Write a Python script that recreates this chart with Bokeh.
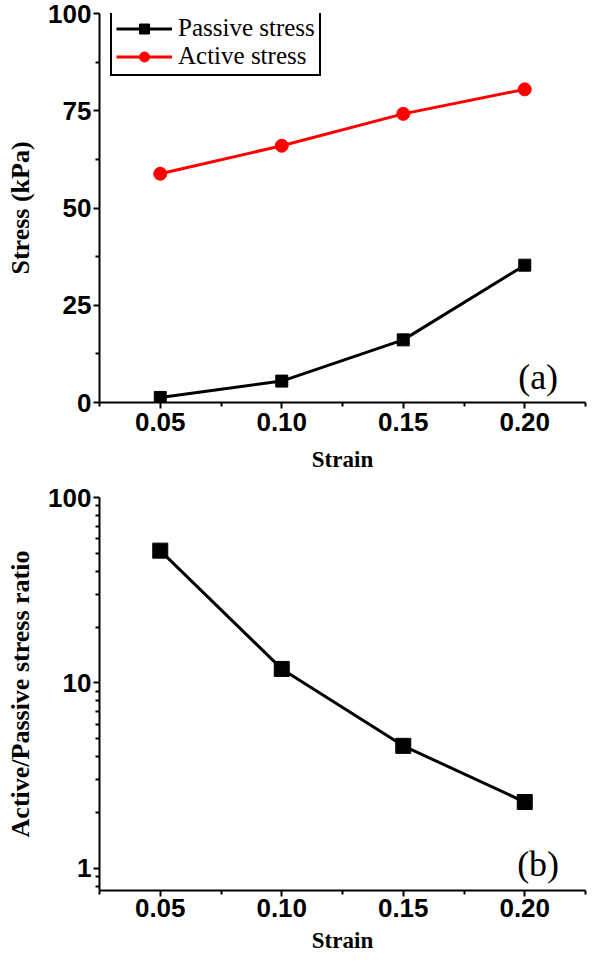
from bokeh.plotting import figure
from bokeh.layouts import column
from bokeh.models import (Range1d, FixedTicker, Legend, LegendItem, Label,
                          PrintfTickFormatter, NumeralTickFormatter)
from bokeh.embed import file_html
from bokeh.resources import INLINE

# ---- data ----
strain = [0.05, 0.10, 0.15, 0.20]
passive_stress = [1.3, 5.5, 16.1, 35.3]
active_stress = [58.8, 66.0, 74.2, 80.5]
stress_ratio = [51.7, 11.9, 4.58, 2.28]

x_ticks = [0.05, 0.10, 0.15, 0.20]
x_minor = [0.025, 0.075, 0.125, 0.175, 0.225]
stress_ticks = [0, 25, 50, 75, 100]
stress_minor = [12.5, 37.5, 62.5, 87.5]
ratio_ticks = [1, 10, 100]
ratio_minor = [0.8, 0.9, 2, 3, 4, 5, 6, 7, 8, 9, 20, 30, 40, 50, 60, 70, 80, 90]

TICK_FONT = "Liberation Sans"
LABEL_FONT = "Liberation Serif"


def style_axes(p, x_std, x_lbl_std):
    for ax in (p.xaxis[0], p.yaxis[0]):
        ax.axis_line_width = 2
        ax.axis_line_color = "black"
        ax.major_tick_line_width = 2
        ax.minor_tick_line_width = 2
        ax.major_tick_out = 6
        ax.major_tick_in = 0
        ax.minor_tick_out = 4
        ax.minor_tick_in = 0
        ax.major_label_text_font = TICK_FONT
        ax.major_label_text_font_size = "26px"
        ax.major_label_text_font_style = "bold"
        ax.major_label_text_color = "black"
        ax.axis_label_text_font = LABEL_FONT
        ax.axis_label_text_font_style = "bold"
        ax.axis_label_text_color = "black"
    p.xaxis[0].axis_label_text_font_size = "23px"
    p.yaxis[0].axis_label_text_font_size = "26px"
    p.xaxis[0].major_label_standoff = x_std
    p.yaxis[0].major_label_standoff = 2
    p.xaxis[0].axis_label_standoff = x_lbl_std
    p.yaxis[0].axis_label_standoff = 10
    p.grid.visible = False
    p.outline_line_color = None
    p.xaxis[0].ticker = FixedTicker(ticks=x_ticks, minor_ticks=x_minor)
    p.xaxis[0].formatter = PrintfTickFormatter(format="%.2f")


# ---- panel (a) ----
p1 = figure(width=587, height=484, output_backend="svg", toolbar_location=None,
            x_range=Range1d(0.025, 0.225), y_range=Range1d(0, 100),
            min_border_left=99, min_border_right=2, min_border_top=13,
            min_border_bottom=82)
style_axes(p1, 4, 13)
p1.xaxis.axis_label = "Strain"
p1.yaxis.axis_label = "Stress (kPa)"
p1.yaxis[0].ticker = FixedTicker(ticks=stress_ticks, minor_ticks=stress_minor)

l_p = p1.line(strain, passive_stress, line_color="black", line_width=3)
m_p = p1.scatter(strain, passive_stress, marker="square", size=12,
                 fill_color="black", line_color="black")
l_a = p1.line(strain, active_stress, line_color="#ff0000", line_width=3)
m_a = p1.scatter(strain, active_stress, marker="circle", size=13,
                 fill_color="#ff0000", line_color="#ff0000")

legend = Legend(items=[LegendItem(label="Passive stress", renderers=[l_p, m_p]),
                       LegendItem(label="Active stress", renderers=[l_a, m_a])],
                location=(11, 326), padding=4, spacing=0,
                glyph_width=56, glyph_height=25, label_height=25,
                label_standoff=6,
                label_text_font=LABEL_FONT, label_text_font_size="25px",
                label_text_color="black",
                border_line_color="black", border_line_width=2,
                border_line_alpha=1, background_fill_alpha=1)
p1.add_layout(legend)

p1.add_layout(Label(x=0.2055, y=6.5, text="(a)", text_font=LABEL_FONT,
                    text_font_size="36px", text_align="center",
                    text_baseline="middle", text_color="black"))

# ---- panel (b) ----
p2 = figure(width=587, height=478, output_backend="svg", toolbar_location=None,
            x_range=Range1d(0.025, 0.225), y_range=Range1d(0.76, 100),
            y_axis_type="log",
            min_border_left=99, min_border_right=2, min_border_top=13,
            min_border_bottom=72)
style_axes(p2, 2, 8)
p2.xaxis.axis_label = "Strain"
p2.yaxis.axis_label = "Active/Passive stress ratio"
p2.yaxis[0].ticker = FixedTicker(ticks=ratio_ticks, minor_ticks=ratio_minor)
p2.yaxis[0].formatter = NumeralTickFormatter(format="0")

p2.line(strain, stress_ratio, line_color="black", line_width=3)
p2.scatter(strain, stress_ratio, marker="square", size=15,
           fill_color="black", line_color="black")

p2.add_layout(Label(x=0.2055, y=1.06, text="(b)", text_font=LABEL_FONT,
                    text_font_size="36px", text_align="center",
                    text_baseline="middle", text_color="black"))

layout = column(p1, p2, spacing=0)
open("out.html", "w").write(file_html(layout, INLINE))
